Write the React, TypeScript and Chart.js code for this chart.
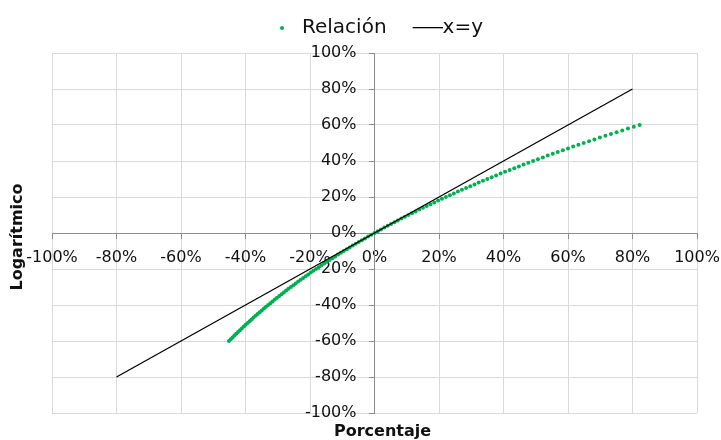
import React, { useEffect, useRef } from 'react';
import { Chart, registerables } from 'chart.js';

Chart.register(...registerables);

const seriesNames = ['Relación', 'x=y'];
const xTitle = 'Porcentaje';
const yTitle = 'Logarítmico';

// Percentage change (x) of each point
const relX = [
  -45.12, -44.57, -44.01, -43.45, -42.88, -42.31, -41.73, -41.14, -40.55, -39.95,
  -39.35, -38.74, -38.12, -37.5, -36.87, -36.24, -35.6, -34.95, -34.3, -33.64,
  -32.97, -32.29, -31.61, -30.93, -30.23, -29.53, -28.82, -28.11, -27.39, -26.66,
  -25.92, -25.17, -24.42, -23.66, -22.89, -22.12, -21.34, -20.55, -19.75, -18.94,
  -18.13, -17.3, -16.47, -15.63, -14.79, -13.93, -13.06, -12.19, -11.31, -10.42,
  -9.52, -8.61, -7.69, -6.76, -5.82, -4.88, -3.92, -2.96, -1.98, -1.0,
  0,
  1.01, 2.02, 3.05, 4.08, 5.13, 6.18, 7.25, 8.33, 9.42, 10.52,
  11.63, 12.75, 13.88, 15.03, 16.18, 17.35, 18.53, 19.72, 20.92, 22.14,
  23.37, 24.61, 25.86, 27.12, 28.4, 29.69, 31.0, 32.31, 33.64, 34.99,
  36.34, 37.71, 39.1, 40.49, 41.91, 43.33, 44.77, 46.23, 47.7, 49.18,
  50.68, 52.2, 53.73, 55.27, 56.83, 58.41, 60.0, 61.61, 63.23, 64.87,
  66.53, 68.2, 69.89, 71.6, 73.33, 75.07, 76.83, 78.6, 80.4, 82.21,
];

// Logarithmic change (y) of each point
const relY = [
  -60, -59, -58, -57, -56, -55, -54, -53, -52, -51,
  -50, -49, -48, -47, -46, -45, -44, -43, -42, -41,
  -40, -39, -38, -37, -36, -35, -34, -33, -32, -31,
  -30, -29, -28, -27, -26, -25, -24, -23, -22, -21,
  -20, -19, -18, -17, -16, -15, -14, -13, -12, -11,
  -10, -9, -8, -7, -6, -5, -4, -3, -2, -1,
  0,
  1, 2, 3, 4, 5, 6, 7, 8, 9, 10,
  11, 12, 13, 14, 15, 16, 17, 18, 19, 20,
  21, 22, 23, 24, 25, 26, 27, 28, 29, 30,
  31, 32, 33, 34, 35, 36, 37, 38, 39, 40,
  41, 42, 43, 44, 45, 46, 47, 48, 49, 50,
  51, 52, 53, 54, 55, 56, 57, 58, 59, 60,
];

const lineX = [-80, 80];
const lineY = [-80, 80];

const axisMin = -100;
const axisMax = 100;
const axisStep = 20;
// where the y tick labels sit (in x-axis units), slightly left of the y axis
const yLabelAnchor = -5.6;

const FONT = '"DejaVu Sans", sans-serif';
const GREEN = '#00b050';
const TEXT = '#111111';
const GRID = '#d9d9d9';
const AXIS = '#8c8c8c';

export default function App() {
  const ref = useRef<HTMLCanvasElement | null>(null);

  useEffect(() => {
    if (!ref.current) return;

    const dotImg = document.createElement('canvas');
    dotImg.width = 6;
    dotImg.height = 6;
    const dctx = dotImg.getContext('2d')!;
    dctx.fillStyle = GREEN;
    dctx.beginPath();
    dctx.arc(3, 3, 2, 0, Math.PI * 2);
    dctx.fill();

    const lineImg = document.createElement('canvas');
    lineImg.width = 40;
    lineImg.height = 2;
    const lctx = lineImg.getContext('2d')!;
    lctx.fillStyle = '#000';
    lctx.fillRect(10, 0, 30, 1.3);

    const titlesPlugin = {
      id: 'axisTitles',
      afterDraw(chart: any) {
        const { ctx, chartArea } = chart;
        ctx.save();
        ctx.font = `bold 16px ${FONT}`;
        ctx.fillStyle = TEXT;
        ctx.textAlign = 'center';
        ctx.textBaseline = 'middle';
        ctx.fillText(xTitle, (chartArea.left + chartArea.right) / 2 + 8, chart.height - 8);
        ctx.translate(18, (chartArea.top + chartArea.bottom) / 2 + 4);
        ctx.rotate(-Math.PI / 2);
        ctx.fillText(yTitle, 0, 0);
        ctx.restore();
      },
    };

    const legendShift = {
      id: 'legendShift',
      afterLayout(chart: any) {
        const lg = chart.legend;
        if (!lg) return;
        lg.left += 3;
        lg.right += 3;
        lg.top -= 5;
        lg.bottom -= 5;
      },
    };

    const noSidePadding = (scale: any) => {
      scale.paddingLeft = 0;
      scale.paddingRight = 0;
    };

    const tickFont = { family: FONT, size: 16 };

    const chart = new Chart(ref.current, {
      type: 'scatter',
      data: {
        datasets: [
          {
            label: seriesNames[0],
            data: relX.map((x, i) => ({ x, y: relY[i] })),
            backgroundColor: GREEN,
            borderColor: GREEN,
            pointRadius: 2,
            pointBorderWidth: 0,
            showLine: false,
            order: 1,
          },
          {
            label: seriesNames[1],
            data: lineX.map((x, i) => ({ x, y: lineY[i] })),
            borderColor: '#000000',
            backgroundColor: '#000000',
            borderWidth: 1.3,
            pointRadius: 0,
            showLine: true,
            order: 0,
          },
        ],
      },
      options: {
        responsive: false,
        animation: false,
        events: [],
        layout: { padding: { left: 52, right: 24, top: -3, bottom: 27 } },
        plugins: {
          legend: {
            display: true,
            position: 'top',
            labels: {
              usePointStyle: true,
              pointStyleWidth: 20,
              padding: 26,
              color: TEXT,
              font: { family: FONT, size: 20 },
              sort: (a: any, b: any) => a.datasetIndex - b.datasetIndex,
              generateLabels: (c: any) => {
                const items = (Chart.defaults.plugins.legend.labels as any).generateLabels(c);
                items.forEach((it: any) => {
                  it.pointStyle = it.datasetIndex === 0 ? dotImg : lineImg;
                });
                return items;
              },
            },
          },
          tooltip: { enabled: false },
        },
        scales: {
          x: {
            type: 'linear',
            position: { y: 0 } as any,
            min: axisMin,
            max: axisMax,
            afterFit: noSidePadding,
            ticks: {
              stepSize: axisStep,
              autoSkip: false,
              maxRotation: 0,
              padding: 10,
              color: TEXT,
              font: tickFont,
              callback: (v: any) => `${v}%`,
            },
            grid: { color: GRID, lineWidth: 1, tickColor: AXIS, tickLength: 5, drawTicks: true },
            border: { display: true, color: AXIS, width: 1 },
          },
          y: {
            type: 'linear',
            position: { x: 0 } as any,
            min: axisMin,
            max: axisMax,
            ticks: {
              stepSize: axisStep,
              autoSkip: false,
              display: false,
            },
            grid: { color: GRID, lineWidth: 1, tickColor: AXIS, tickLength: 5, drawTicks: true },
            border: { display: true, color: AXIS, width: 1 },
          },
          yLabels: {
            type: 'linear',
            axis: 'y',
            position: { x: yLabelAnchor } as any,
            min: axisMin,
            max: axisMax,
            ticks: {
              stepSize: axisStep,
              autoSkip: false,
              color: TEXT,
              font: tickFont,
              callback: (v: any) => `${v}%`,
            },
            grid: { display: false, drawOnChartArea: false, drawTicks: false },
            border: { display: false },
          },
        },
      },
      plugins: [titlesPlugin, legendShift],
    });

    return () => chart.destroy();
  }, []);

  return (
    <div style={{ position: 'absolute', left: 0, top: 0, width: 721, height: 440, background: '#fff' }}>
      <canvas ref={ref} width={721} height={440} style={{ display: 'block' }} />
    </div>
  );
}
